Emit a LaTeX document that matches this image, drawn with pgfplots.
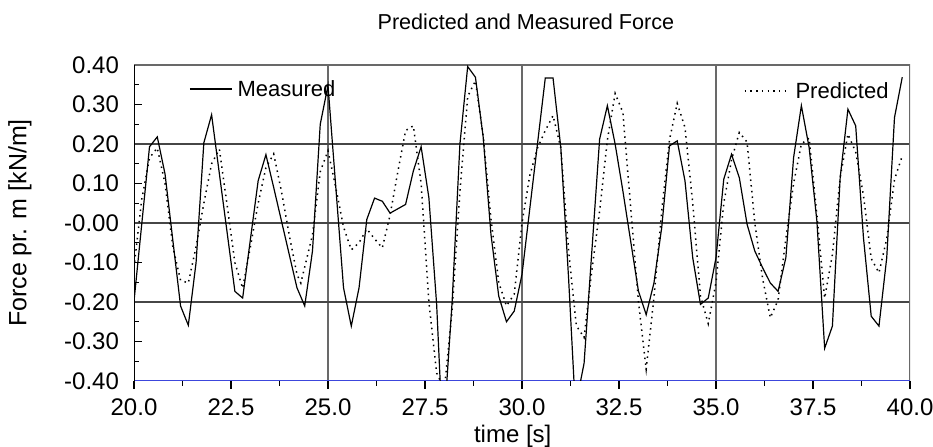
\documentclass[border=0pt]{standalone}
\usepackage{fontspec}
\setmainfont{Liberation Sans}
\usepackage{pgfplots}
\pgfplotsset{compat=1.18}
\definecolor{axisblue}{RGB}{60,70,220}
\definecolor{griddark}{RGB}{70,70,70}
\definecolor{gridlight}{RGB}{105,105,105}

\begin{document}
\begin{tikzpicture}
\begin{axis}[
    name=ax,
    scale only axis,
    width=388pt, height=158pt,
    xmin=20, xmax=40, ymin=-0.4, ymax=0.4,
    enlargelimits=false,
    axis line style={draw=none},
    tick pos=left,
    xtick align=outside,
    ytick align=inside,
    xtick={20,22.5,...,40},
    xticklabels={20.0,22.5,25.0,27.5,30.0,32.5,35.0,37.5,40.0},
    minor x tick num=1,
    ytick={-0.4,-0.3,...,0.41},
    yticklabels={-0.40,-0.30,-0.20,-0.10,-0.00,0.10,0.20,0.30,0.40},
    minor y tick num=1,
    major tick length=4pt,
    minor tick length=2.5pt,
    x tick style={black, line width=0.6pt},
    y tick style={black, line width=0.5pt},
    extra x ticks={25,30,35},
    extra x tick labels={},
    extra x tick style={grid=major, major grid style={gridlight, line width=0.6pt}, major tick length=0pt},
    extra y ticks={-0.2,0,0.2},
    extra y tick labels={},
    extra y tick style={grid=major, major grid style={griddark, line width=0.6pt}, major tick length=0pt},
    tick label style={font=\fontsize{12}{14}\selectfont},
    xticklabel style={yshift=-1.5pt},
    yticklabel style={xshift=-4pt},
    title={Predicted and Measured Force},
    every axis title/.style={at={(rel axis cs:0.505,1.136)}, anchor=center, font=\fontsize{10.8}{12}\selectfont},
    xlabel={time [s]},
    ylabel={Force pr. m [kN/m]},
    every axis x label/.style={at={(rel axis cs:0.488,-0.176)}, anchor=center, font=\fontsize{12}{14}\selectfont},
    every axis y label/.style={at={(rel axis cs:-0.147,0.5)}, rotate=90, anchor=center, font=\fontsize{12.5}{14}\selectfont},
]
% borders
\draw[gridlight, line width=0.6pt] (rel axis cs:0,1) -- (rel axis cs:1,1) -- (rel axis cs:1,0);
\draw[axisblue, line width=0.8pt] (rel axis cs:0,0) -- (rel axis cs:1,0);
\draw[black, line width=0.8pt] (rel axis cs:0,0) -- (rel axis cs:0,1);

% predicted
\addplot[black, line width=0.75pt, dash pattern=on 0.75pt off 2.1pt] coordinates {
(20.0,-0.113) (20.2,0.06) (20.4,0.165) (20.6,0.19) (20.8,0.10) (21.0,-0.06)
(21.2,-0.145) (21.4,-0.152) (21.6,-0.06) (21.8,0.05) (22.0,0.15) (22.2,0.187)
(22.4,0.045) (22.6,-0.10) (22.8,-0.165) (23.0,-0.06) (23.2,0.05) (23.4,0.14)
(23.6,0.175) (23.8,0.08) (24.0,-0.03) (24.2,-0.13) (24.3,-0.152) (24.6,-0.03)
(24.8,0.13) (25.0,0.183) (25.2,0.09) (25.4,-0.01) (25.6,-0.068) (25.8,-0.05)
(26.0,-0.015) (26.2,-0.04) (26.4,-0.063) (26.6,0.02) (26.8,0.13) (27.0,0.234)
(27.2,0.246) (27.4,0.10) (27.6,-0.20) (27.8,-0.38) (28.0,-0.42) (28.2,-0.22)
(28.4,0.08) (28.6,0.32) (28.8,0.36) (29.0,0.22) (29.2,0.01) (29.4,-0.15)
(29.6,-0.21) (29.8,-0.18) (30.0,0.0) (30.2,0.12) (30.4,0.19) (30.6,0.234)
(30.8,0.272) (31.0,0.19) (31.2,-0.07) (31.4,-0.26) (31.6,-0.29) (31.8,-0.12)
(32.0,0.03) (32.2,0.21) (32.4,0.328) (32.6,0.28) (32.8,0.04) (33.0,-0.198)
(33.2,-0.37) (33.4,-0.19) (33.6,0.03) (33.8,0.21) (34.0,0.303) (34.2,0.242)
(34.4,0.05) (34.6,-0.185) (34.8,-0.255) (35.0,-0.15) (35.2,0.05) (35.4,0.16)
(35.6,0.229) (35.8,0.205) (36.0,0.0) (36.2,-0.14) (36.4,-0.24) (36.6,-0.195)
(36.8,-0.04) (37.0,0.10) (37.2,0.20) (37.4,0.215) (37.6,0.02) (37.8,-0.19)
(38.0,-0.08) (38.2,0.115) (38.4,0.225) (38.6,0.18) (38.8,0.07) (39.0,-0.09)
(39.2,-0.126) (39.4,-0.04) (39.6,0.11) (39.8,0.17)
};

% measured
\addplot[black, line width=0.6pt] coordinates {
(20.0,-0.198) (20.4,0.193) (20.6,0.218) (20.8,0.124) (21.2,-0.21) (21.4,-0.259)
(21.6,-0.10) (21.8,0.203) (22.0,0.274) (22.6,-0.173) (22.8,-0.19) (23.2,0.107)
(23.4,0.173) (23.6,0.09) (24.2,-0.164) (24.4,-0.21) (24.6,-0.071) (24.8,0.25)
(25.0,0.348) (25.4,-0.164) (25.6,-0.261) (25.8,-0.164) (26.0,0.009) (26.2,0.063)
(26.4,0.055) (26.6,0.025) (27.0,0.047) (27.2,0.132) (27.4,0.193) (27.6,0.064)
(27.8,-0.206) (27.9,-0.42) (28.05,-0.42) (28.2,-0.198) (28.4,0.2) (28.6,0.396)
(28.8,0.369) (29.0,0.217) (29.2,-0.029) (29.4,-0.185) (29.6,-0.25) (29.8,-0.223)
(30.0,-0.13) (30.6,0.367) (30.8,0.367) (31.0,0.191) (31.2,-0.139) (31.35,-0.42)
(31.47,-0.42) (31.6,-0.355) (32.0,0.212) (32.2,0.297) (32.4,0.2) (32.6,0.081)
(33.0,-0.172) (33.2,-0.232) (33.4,-0.152) (33.6,-0.012) (33.8,0.195) (34.0,0.208)
(34.2,0.107) (34.4,-0.088) (34.6,-0.206) (34.8,-0.19) (35.0,-0.088) (35.2,0.111)
(35.4,0.174) (35.6,0.115) (35.8,-0.003) (36.0,-0.071) (36.2,-0.113) (36.4,-0.152)
(36.6,-0.173) (36.8,-0.088) (37.0,0.166) (37.2,0.297) (37.4,0.191) (37.6,0.005)
(37.8,-0.317) (38.0,-0.261) (38.2,0.115) (38.4,0.288) (38.6,0.246) (38.8,-0.037)
(39.0,-0.236) (39.2,-0.261) (39.4,-0.088) (39.6,0.267) (39.8,0.369)
};

% legend
\draw[black, line width=0.6pt] (rel axis cs:0.072,0.924) -- (rel axis cs:0.126,0.924);
\node[anchor=west, inner sep=0pt, font=\fontsize{11}{13}\selectfont] at (rel axis cs:0.133,0.924) {Measured};
\draw[black, line width=0.75pt, dash pattern=on 0.75pt off 2.1pt] (rel axis cs:0.787,0.918) -- (rel axis cs:0.845,0.918);
\node[anchor=west, inner sep=0pt, font=\fontsize{11}{13}\selectfont] at (rel axis cs:0.852,0.918) {Predicted};
\end{axis}
\pgfresetboundingbox
\path[use as bounding box] ([shift={(-67pt,-33pt)}]ax.south west) rectangle ([shift={(11.5pt,32.5pt)}]ax.north east);
\end{tikzpicture}
\end{document}
